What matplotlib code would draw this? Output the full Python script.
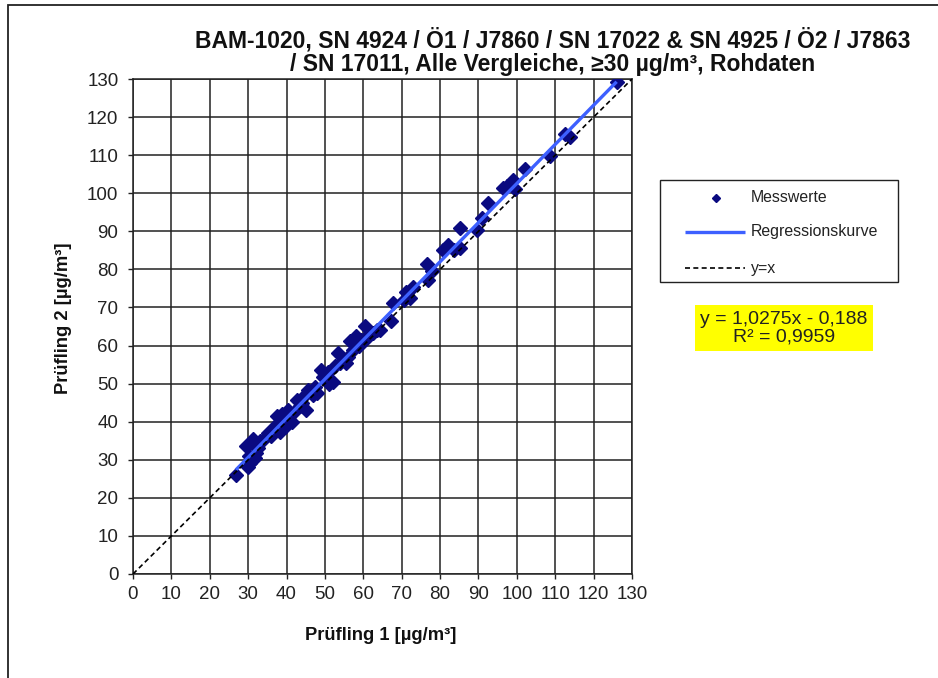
import matplotlib
matplotlib.use("Agg")
import matplotlib.pyplot as plt
from matplotlib.patches import Rectangle
from matplotlib.lines import Line2D
import numpy as np

plt.rcParams['font.family'] = ['Liberation Sans', 'DejaVu Sans']

# ---- data ----
pruefling1 = [26.8, 29.5, 30.2, 30.6, 31.0, 31.3, 31.8, 32.1, 32.6, 30.0, 33.0,
              34.0, 35.2, 36.0, 37.4, 38.2, 38.7, 39.5, 40.0, 40.4, 41.3, 42.0, 37.0, 39.0,
              42.6, 43.5, 44.2, 45.2, 45.6, 46.9, 47.5, 44.0, 48.0,
              49.1, 49.5, 50.8, 51.0, 52.1, 52.5, 53.4, 54.0, 55.6, 56.5, 57.3, 56.0, 58.2, 58.8,
              60.4, 60.8, 61.5, 62.6, 63.5, 64.3, 59.5,
              67.3, 67.8, 71.2, 72.1, 73.0, 70.5,
              76.5, 76.9, 78.0, 80.8, 82.1, 85.1, 85.1, 83.5,
              89.5, 90.8, 92.5, 96.4, 99.0, 99.5, 97.5,
              102.1, 108.6, 112.5, 113.8, 126.0]
pruefling2 = [25.9, 33.7, 31.0, 29.2, 34.5, 35.4, 30.5, 31.9, 33.0, 28.0, 34.8,
              35.5, 37.0, 36.2, 41.6, 37.2, 42.1, 38.5, 41.0, 43.0, 39.9, 42.5, 39.0, 40.5,
              45.6, 44.0, 46.5, 43.0, 48.3, 46.9, 49.0, 44.8, 47.5,
              53.6, 51.8, 53.1, 50.0, 50.5, 54.5, 58.0, 55.5, 55.4, 61.1, 58.9, 57.0, 62.4, 60.0,
              65.1, 61.6, 63.0, 63.3, 64.0, 64.2, 61.5,
              66.4, 71.3, 74.0, 72.6, 75.3, 72.0,
              81.5, 77.1, 79.5, 85.0, 86.4, 90.8, 85.5, 85.0,
              90.3, 93.4, 97.4, 101.4, 103.6, 101.0, 102.0,
              106.3, 109.8, 115.6, 114.7, 129.3]
reg_slope = 1.0275
reg_intercept = -0.188
r_squared = 0.9959
axis_ticks = [0, 10, 20, 30, 40, 50, 60, 70, 80, 90, 100, 110, 120, 130]

title_line1 = "BAM-1020, SN 4924 / Ö1 / J7860 / SN 17022 & SN 4925 / Ö2 / J7863"
title_line2 = "/ SN 17011, Alle Vergleiche, ≥30 µg/m³, Rohdaten"
xlabel = "Prüfling 1 [µg/m³]"
ylabel = "Prüfling 2 [µg/m³]"
legend_labels = ["Messwerte", "Regressionskurve", "y=x"]

W, H = 938, 678
fig = plt.figure(figsize=(W / 100, H / 100), dpi=100)
fig.patch.set_facecolor('white')

def fx(x):
    return x / W

def fy(y):
    return 1 - y / H

# outer chart border
fig.add_artist(Rectangle((fx(8), -0.05), 1.2, fy(5) + 0.05, transform=fig.transFigure,
                         fill=False, edgecolor='#222222', lw=1.3))

left, right, top, bottom = 133, 632, 79, 574
ax = fig.add_axes([fx(left), fy(bottom), (right - left) / W, (bottom - top) / H])

x = np.array(pruefling1)
y = np.array(pruefling2)
marker_color = '#0a0a80'
reg_color = '#3d60ff'

ax.plot(x, y, linestyle='none', marker='D', markersize=7, color=marker_color,
        markeredgecolor=marker_color, zorder=3)
xr = np.array([x.min(), x.max()])
ax.plot(xr, reg_slope * xr + reg_intercept, color=reg_color, lw=2.4, zorder=4,
        solid_capstyle='butt')
ax.plot([axis_ticks[0], axis_ticks[-1]], [axis_ticks[0], axis_ticks[-1]], color='black',
        lw=1.2, linestyle=(0, (3, 2)), zorder=5)

ax.set_xlim(axis_ticks[0], axis_ticks[-1])
ax.set_ylim(axis_ticks[0], axis_ticks[-1])
ax.set_xticks(axis_ticks)
ax.set_yticks(axis_ticks)
ax.grid(True, color='#222222', lw=1.1)
ax.set_axisbelow(True)
for s in ax.spines.values():
    s.set_color('#222222')
    s.set_linewidth(1.1)
ax.tick_params(axis='both', direction='out', length=3.5, width=1.0, color='#222222',
               labelsize=13.5, labelcolor='#222222')
ax.tick_params(axis='x', pad=5)
ax.tick_params(axis='y', pad=7)

# titles and axis labels
fig.text(fx(553), fy(40), title_line1, ha='center', va='center', fontsize=16.5,
         fontweight='bold', color='#111111')
fig.text(fx(553), fy(64), title_line2, ha='center', va='center', fontsize=16.5,
         fontweight='bold', color='#111111')
fig.text(fx(381), fy(636), xlabel, ha='center', va='center', fontsize=13.2,
         fontweight='bold', color='#111111')
fig.text(fx(64), fy(318), ylabel, ha='center', va='center', fontsize=13.2,
         fontweight='bold', color='#111111', rotation=90)

# legend box
fig.add_artist(Rectangle((fx(660), fy(282)), (898 - 660) / W, (282 - 180) / H,
                         transform=fig.transFigure, fill=True, facecolor='white',
                         edgecolor='#222222', lw=1.0))
fig.add_artist(Line2D([fx(716)], [fy(198)], transform=fig.transFigure, linestyle='none',
                      marker='D', markersize=4, color=marker_color))
fig.add_artist(Line2D([fx(685), fx(745)], [fy(232), fy(232)], transform=fig.transFigure,
                      color=reg_color, lw=2.4, solid_capstyle='butt'))
fig.add_artist(Line2D([fx(685), fx(745)], [fy(268), fy(268)], transform=fig.transFigure,
                      color='black', lw=1.2, linestyle=(0, (3, 2))))
for lab, yy in zip(legend_labels, [198, 232, 268]):
    fig.text(fx(751), fy(yy), lab, ha='left', va='center', fontsize=11.4, color='#222222')

# regression equation box
eq_text = "y = {}x - {}\nR² = {}".format(str(reg_slope).replace('.', ','),
                                         str(abs(reg_intercept)).replace('.', ','),
                                         str(r_squared).replace('.', ','))
fig.text(fx(784), fy(328), eq_text, ha='center', va='center', fontsize=14,
         color='#222222', linespacing=1.05,
         bbox=dict(boxstyle='square,pad=0.28', facecolor='#ffff00', edgecolor='none'))

fig.savefig('out.png', dpi=100, facecolor='white')
